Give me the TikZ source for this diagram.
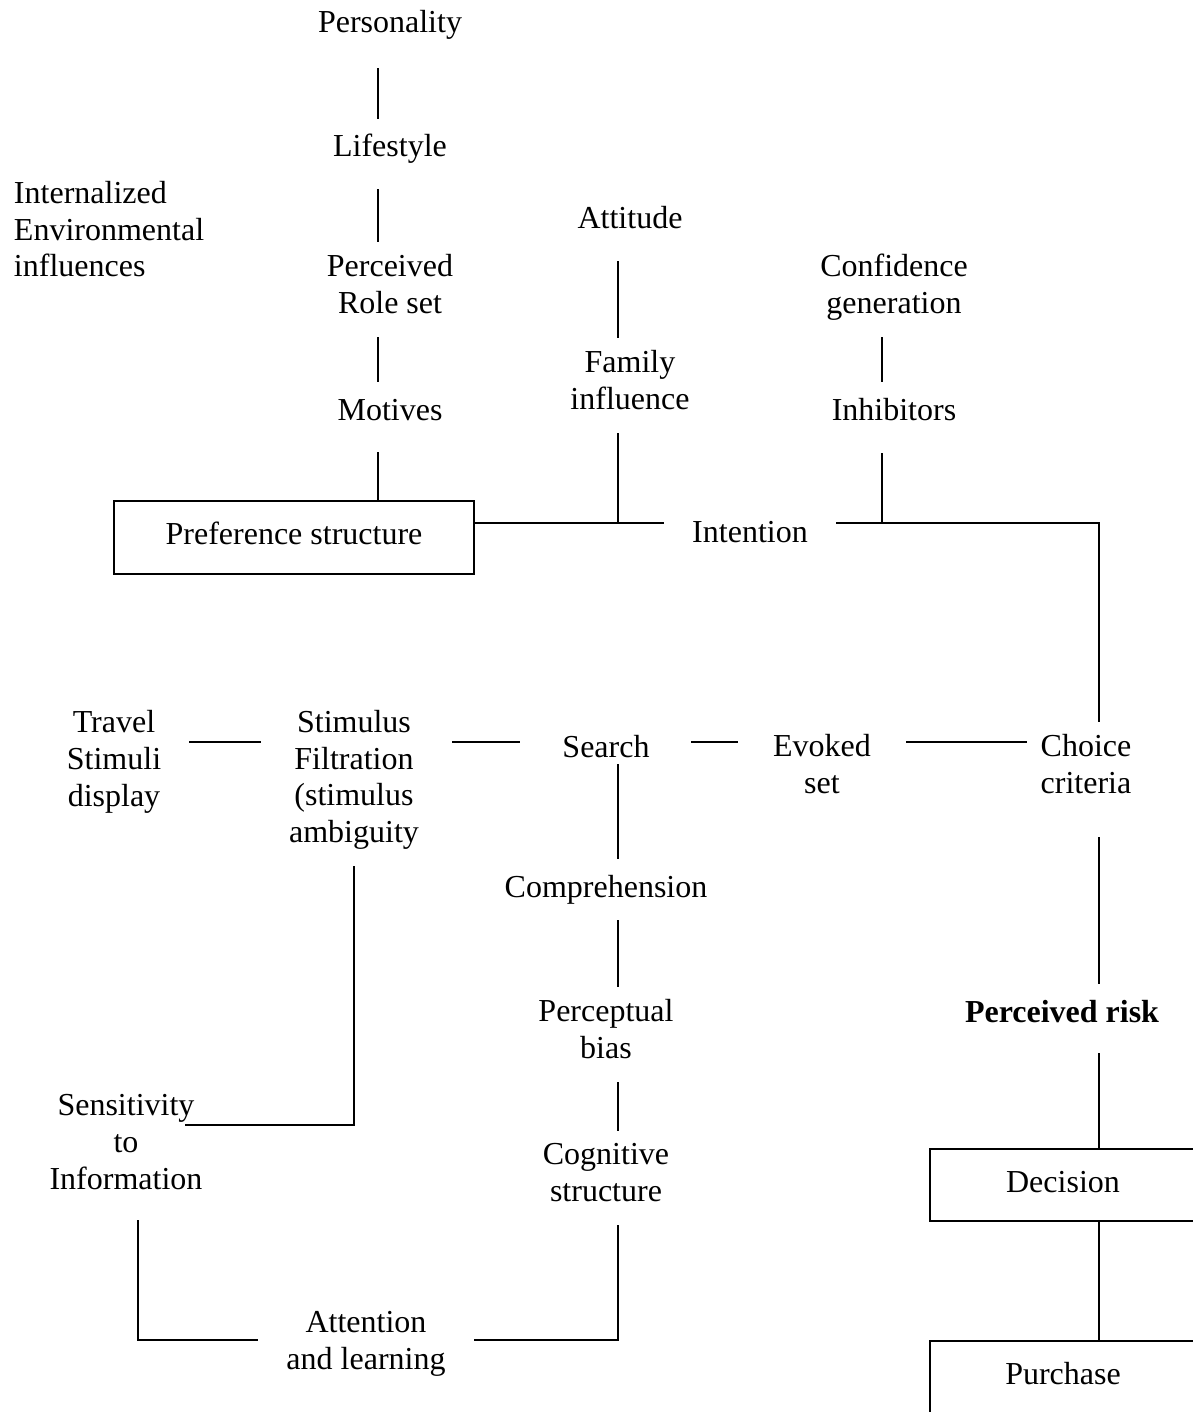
\documentclass[tikz,border=0pt,12pt]{standalone}
\usepackage{fontspec}
\setmainfont{Liberation Serif}
\usepackage{tikz}
\usetikzlibrary{positioning,calc}
\tikzset{
    base/.style={font=\fontsize{12pt}{13.7pt}\selectfont, align=center},
    item/.style={base, inner sep=0pt, outer xsep=11pt, outer ysep=5pt, anchor=base,
                 execute at begin node=\strut, execute at end node=\strut},
    framed/.style={base, draw, line width=0.75pt, inner sep=0pt, outer sep=0pt,
                   execute at begin node=\strut},
    link/.style={line width=0.75pt, line cap=rect}
}

\begin{document}
\begin{tikzpicture}[x=0.375pt, y=-0.375pt]
  \useasboundingbox (0,0) rectangle (1193,1412);

  % Columns and rows of the connectors
  \coordinate (colA) at (378,0);
  \coordinate (colB) at (618,0);
  \coordinate (colC) at (882,0);
  \coordinate (colD) at (1099,0);
  \coordinate (colE) at (354,0);
  \coordinate (colF) at (138,0);
  \coordinate (bus) at (0,523);
  \coordinate (row) at (0,742);
  \coordinate (sensRow) at (0,1125);
  \coordinate (attnRow) at (0,1340);

  % Upper part (nodes sit on the baseline of their last line)
  \node[item] (pers) at (390,33) {Personality};
  \node[item] (life) at (390,157) {Lifestyle};
  \node[item] (role) at (390,313.5) {Perceived\\Role set};
  \node[item] (motv) at (390,420) {Motives};
  \node[item, anchor=base west, align=left, outer sep=0pt] (env) at (14,277) {Internalized\\Environmental\\influences};
  \node[item] (att) at (630,229) {Attitude};
  \node[item] (fam) at (630,409.5) {Family\\influence};
  \node[item] (conf) at (894,313.5) {Confidence\\generation};
  \node[item] (inh) at (894,420) {Inhibitors};
  \node[framed, minimum width=135pt, minimum height=27.4pt] (pref) at (294,537.5) {Preference structure};
  \node[item] (intent) at (750,542) {Intention};

  % Middle row
  \node[item] (travel) at (114,806) {Travel\\Stimuli\\display};
  \node[item] (stim) at (354,842.5) {Stimulus\\Filtration\\(stimulus\\ambiguity};
  \node[item] (search) at (606,757) {Search};
  \node[item] (evoked) at (822,793.5) {Evoked\\set};
  \node[item] (choice) at (1086,793.5) {Choice\\criteria};

  % Lower part
  \node[item] (comp) at (606,897) {Comprehension};
  \node[item] (perc) at (606,1058.5) {Perceptual\\bias};
  \node[item] (cog) at (606,1201.5) {Cognitive\\structure};
  \node[item] (sens) at (126,1189) {Sensitivity\\to\\Information};
  \node[item] (attn) at (366,1369.5) {Attention\\and learning};
  \node[item, font=\fontsize{12pt}{13.7pt}\selectfont\bfseries] (risk) at (1062,1022) {Perceived risk};
  \node[framed, minimum width=99.75pt, minimum height=27pt] (dec) at (1063,1185) {Decision};
  \node[framed, minimum width=99.75pt, minimum height=27pt] (pur) at (1063,1377) {Purchase};

  % Connectors
  \draw[link, shorten <=4.5pt] (pers.south -| colA) -- (colA |- life.north);
  \draw[link, shorten <=3.4pt] (life.south -| colA) -- (colA |- role.north);
  \draw[link] (role.south -| colA) -- (colA |- motv.north);
  \draw[link, shorten <=3.4pt] (motv.south -| colA) -- (colA |- pref.north);
  \draw[link, shorten <=3.4pt] (att.south -| colB) -- (colB |- fam.north);
  \draw[link] (fam.south -| colB) -- (colB |- bus);
  \draw[link] (conf.south -| colC) -- (colC |- inh.north);
  \draw[link, shorten <=3.75pt] (inh.south -| colC) -- (colC |- bus);
  \draw[link] (pref.east |- bus) -- (intent.west |- bus);
  \draw[link] (intent.east |- bus) -- (colD |- bus) -- (colD |- choice.north);

  \draw[link] (travel.east |- row) -- (stim.west |- row);
  \draw[link, shorten <=1.9pt, shorten >=5.3pt] (stim.east |- row) -- (search.west |- row);
  \draw[link, shorten <=4.9pt, shorten >=2.6pt] (search.east |- row) -- (evoked.west |- row);
  \draw[link, shorten <=2.6pt, shorten >=-5.6pt] (evoked.east |- row) -- (choice.west |- row);

  \draw[link, shorten <=-6pt] (search.south -| colB) -- (colB |- comp.north);
  \draw[link] (comp.south -| colB) -- (colB |- perc.north);
  \draw[link] (perc.south -| colB) -- (colB |- cog.north);
  \draw[link] (cog.south -| colB) |- (attn.east |- attnRow);
  \draw[link, shorten <=3pt] (sens.south -| colF) |- (attn.west |- attnRow);
  \draw[link, shorten >=-17pt] (stim.south -| colE) |- (sens.east |- sensRow);

  \draw[link, shorten <=7.5pt] (choice.south -| colD) -- (colD |- risk.north);
  \draw[link, shorten <=3pt] (risk.south -| colD) -- (colD |- dec.north);
  \draw[link] (dec.south -| colD) -- (colD |- pur.north);
\end{tikzpicture}
\end{document}
